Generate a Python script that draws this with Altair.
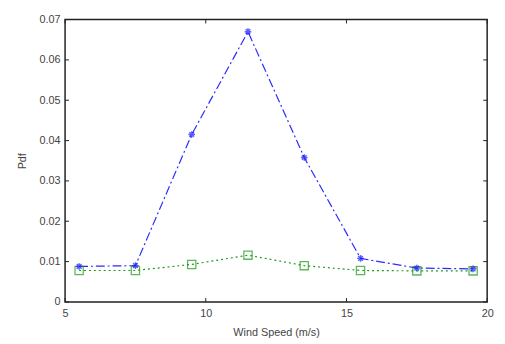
import altair as alt
import pandas as pd

wind = [5.5, 7.5, 9.5, 11.5, 13.5, 15.5, 17.5, 19.5]
pdf_blue = [0.0088, 0.0090, 0.0415, 0.0670, 0.0358, 0.0108, 0.0084, 0.0082]
pdf_green = [0.0078, 0.0078, 0.0093, 0.0116, 0.0090, 0.0078, 0.0077, 0.0077]
x_ticks = [5, 10, 15, 20]
y_ticks = [0, 0.01, 0.02, 0.03, 0.04, 0.05, 0.06, 0.07]

W, H = 429, 287

blue = pd.DataFrame({"x": wind, "y": pdf_blue})
green = pd.DataFrame({"x": wind, "y": pdf_green})

xs = alt.Scale(domain=[5, 20], nice=False, zero=False)
ys = alt.Scale(domain=[0, 0.07], nice=False)

font = "Liberation Sans"
xax = alt.Axis(values=x_ticks, title="Wind Speed (m/s)", ticks=False, grid=False,
               labelFont=font, titleFont=font, labelFontSize=11, titleFontSize=11,
               labelColor="#444", titleColor="#444", titleFontWeight="normal",
               labelPadding=6, titlePadding=8, domain=False, labelFlush=False)
yax = alt.Axis(values=y_ticks, title="Pdf", ticks=False, grid=False,
               labelFont=font, titleFont=font, labelFontSize=11, titleFontSize=11,
               labelColor="#444", titleColor="#444", titleFontWeight="normal",
               labelPadding=5, titlePadding=12, domain=False, labelFlush=False,
               labelExpr="datum.value == 0 ? '0' : format(datum.value, '.2f')")

asterisk = "M-1,0L1,0M0,-1L0,1M-0.7,-0.7L0.7,0.7M-0.7,0.7L0.7,-0.7"

bline = alt.Chart(blue).mark_line(color="#2a2aff", strokeWidth=1.2, strokeDash=[9, 3, 2, 3]).encode(
    x=alt.X("x:Q", scale=xs, axis=xax), y=alt.Y("y:Q", scale=ys, axis=yax))
bpts = alt.Chart(blue).mark_point(shape=asterisk, filled=False, color="#1a1aff", size=45, strokeWidth=1.5).encode(
    x=alt.X("x:Q", scale=xs), y=alt.Y("y:Q", scale=ys))
gline = alt.Chart(green).mark_line(color="#1a9a1a", strokeWidth=1.2, strokeDash=[2, 3]).encode(
    x=alt.X("x:Q", scale=xs), y=alt.Y("y:Q", scale=ys))
gpts = alt.Chart(green).mark_point(shape="square", filled=False, color="#1a9a1a", size=70, strokeWidth=1.3).encode(
    x=alt.X("x:Q", scale=xs), y=alt.Y("y:Q", scale=ys))

xt = pd.DataFrame({"x": x_ticks})
yt = pd.DataFrame({"y": y_ticks})
tick_color = "#222"
xtb = alt.Chart(xt).mark_rule(color=tick_color).encode(x=alt.X("x:Q", scale=xs), y=alt.value(H), y2=alt.value(H - 4))
xtt = alt.Chart(xt).mark_rule(color=tick_color).encode(x=alt.X("x:Q", scale=xs), y=alt.value(0), y2=alt.value(4))
ytl = alt.Chart(yt).mark_rule(color=tick_color).encode(y=alt.Y("y:Q", scale=ys), x=alt.value(0), x2=alt.value(4))
ytr = alt.Chart(yt).mark_rule(color=tick_color).encode(y=alt.Y("y:Q", scale=ys), x=alt.value(W), x2=alt.value(W - 4))

chart = alt.layer(xtb, xtt, ytl, ytr, gline, bline, gpts, bpts).properties(
    width=W, height=H,
    autosize=alt.AutoSizeParams(type="none"),
    padding={"left": 58, "top": 9, "right": 10, "bottom": 40},
).configure_view(stroke="#222", strokeWidth=1.5)

chart.save("out.html", embed_options={"renderer": "svg", "actions": False})
